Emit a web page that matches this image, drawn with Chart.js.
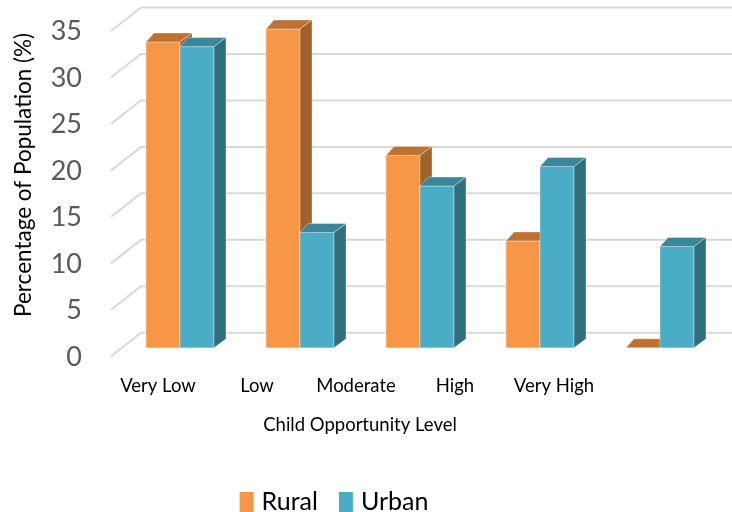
<!DOCTYPE html>
<html>
<head>
<meta charset="utf-8">
<script src="https://cdn.jsdelivr.net/npm/chart.js@4.4.0/dist/chart.umd.min.js"></script>
<style>
  html, body { margin: 0; padding: 0; background: #fff; overflow: hidden; }
  #wrap { width: 732px; height: 512px; }
</style>
</head>
<body>
<div id="wrap"><canvas id="chart"></canvas></div>
<script>
const categories = ["Very Low", "Low", "Moderate", "High", "Very High"];
const rural = [32.9, 34.3, 20.7, 11.5, 0];
const urban = [32.4, 12.4, 17.4, 19.5, 10.9];
const yTicks = [0, 5, 10, 15, 20, 25, 30, 35];

const FONT = "Lato, 'Open Sans', sans-serif";
const faceColors = [
    { front: "#F79646", top: "#BE7131", side: "#A0622B" },  // Rural
    { front: "#4BACC6", top: "#3B8699", side: "#306F7E" }   // Urban
];

// oblique offsets for the box depth, the back wall and the floor front edge
const depth = { left: 8, right: 12, up: 9 };
const wall = { dx: 21, dy: -15 };
const floorEdge = { dx: -9, dy: 8.5 };
const legendCenter = 334;

function face(ctx, pts, fill) {
    ctx.beginPath();
    ctx.moveTo(pts[0][0], pts[0][1]);
    for (let i = 1; i < pts.length; i++) ctx.lineTo(pts[i][0], pts[i][1]);
    ctx.closePath();
    ctx.fillStyle = fill;
    ctx.fill();
    ctx.stroke();
}

// gridlines on the back wall plus the slanted floor lines
const wallGrid = {
    id: "wallGrid",
    beforeDatasetsDraw(chart) {
        const { ctx, chartArea, scales: { y } } = chart;
        ctx.save();
        ctx.strokeStyle = "#d9d9d9";
        ctx.lineWidth = 2;
        yTicks.forEach(v => {
            const py = y.getPixelForValue(v);
            const bx = chartArea.left + wall.dx;
            const by = py + wall.dy;
            ctx.beginPath();
            ctx.moveTo(chartArea.left + floorEdge.dx, py + floorEdge.dy);
            ctx.lineTo(bx, by);
            ctx.lineTo(chart.width, by);
            ctx.stroke();
        });
        ctx.restore();
    }
};

// front, top and side of every bar, rural before urban so the urban front hides the rural side
const boxes3d = {
    id: "boxes3d",
    afterDatasetsDraw(chart) {
        const ctx = chart.ctx;
        ctx.save();
        ctx.lineWidth = 1;
        ctx.strokeStyle = "rgba(255,255,255,0.35)";
        ctx.lineJoin = "round";
        chart.data.datasets.forEach((ds, i) => {
            const c = faceColors[i];
            chart.getDatasetMeta(i).data.forEach(bar => {
                const x0 = bar.x - bar.width / 2;
                const x1 = bar.x + bar.width / 2;
                const yt = bar.y;
                const yb = bar.base;
                face(ctx, [[x0, yb], [x0, yt], [x1, yt], [x1, yb]], c.front);
                face(ctx, [[x0, yt], [x0 + depth.left, yt - depth.up], [x1 + depth.right, yt - depth.up], [x1, yt]], c.top);
                face(ctx, [[x1, yt], [x1 + depth.right, yt - depth.up], [x1 + depth.right, yb - depth.up], [x1, yb]], c.side);
            });
        });
        ctx.restore();
    }
};

const bottomLegend = {
    id: "bottomLegend",
    afterDraw(chart) {
        const ctx = chart.ctx;
        ctx.save();
        ctx.font = "25px " + FONT;
        ctx.textBaseline = "alphabetic";
        const items = chart.data.datasets.map(ds => ({
            text: ds.label,
            color: ds.backgroundColor,
            w: ctx.measureText(ds.label).width
        }));
        const box = 14, gap = 8, between = 21;
        const total = items.reduce((s, it) => s + box + gap + it.w, 0) + between * (items.length - 1);
        let x = legendCenter - total / 2;
        items.forEach(it => {
            ctx.fillStyle = it.color;
            ctx.fillRect(x, 492, box, 20);
            ctx.fillStyle = "#000";
            ctx.fillText(it.text, x + box + gap, 510);
            x += box + gap + it.w + between;
        });
        ctx.restore();
    }
};

// the scales keep their own padding out of the layout so the plot area stays where it is set
function noAutoPadding(s) {
    s.paddingTop = 0;
    s.paddingBottom = 0;
    s.paddingLeft = 0;
    s.paddingRight = 0;
}

new Chart(document.getElementById("chart"), {
    type: "bar",
    data: {
        labels: categories,
        datasets: [
            { label: "Rural", data: rural, backgroundColor: faceColors[0].front, xAxisID: "x", yAxisID: "y" },
            { label: "Urban", data: urban, backgroundColor: faceColors[1].front, xAxisID: "x", yAxisID: "y" }
        ]
    },
    options: {
        responsive: true,
        maintainAspectRatio: false,
        animation: false,
        layout: { autoPadding: false, padding: { left: 0, right: 12, top: 2, bottom: 0 } },
        datasets: { bar: { categoryPercentage: 0.567, barPercentage: 1, borderWidth: 0 } },
        plugins: {
            legend: { display: false },
            tooltip: { enabled: false },
            title: {
                display: true,
                position: "bottom",
                text: "Child Opportunity Level",
                color: "#000",
                font: { family: FONT, size: 18.5, weight: "normal" },
                padding: { top: 4, bottom: 76 }
            }
        },
        scales: {
            x: { display: false },
            labelAxis: {
                type: "linear",
                position: "bottom",
                offset: false,
                min: -0.384,
                max: 5.677,
                grid: { display: false, drawTicks: false, offset: false },
                border: { display: false },
                afterBuildTicks: s => { s.ticks = categories.map((_, i) => ({ value: i })); },
                afterFit: s => { s.height = 62; noAutoPadding(s); },
                ticks: {
                    callback: v => categories[v],
                    autoSkip: false,
                    maxRotation: 0,
                    padding: 27,
                    color: "#000",
                    font: { family: FONT, size: 18.5 }
                }
            },
            y: {
                min: 0,
                max: 37.2,
                grid: { display: false, drawTicks: false },
                border: { display: false },
                afterBuildTicks: s => { s.ticks = yTicks.map(v => ({ value: v })); },
                afterFit: s => { s.width = 120; noAutoPadding(s); },
                ticks: { padding: 38, labelOffset: 9, color: "#595959", font: { family: FONT, size: 27 } },
                title: {
                    display: true,
                    text: "Percentage of Population (%)",
                    color: "#000",
                    font: { family: FONT, size: 22.5 },
                    padding: { top: 10, bottom: 0 }
                }
            }
        }
    },
    plugins: [wallGrid, boxes3d, bottomLegend]
});
</script>
</body>
</html>
